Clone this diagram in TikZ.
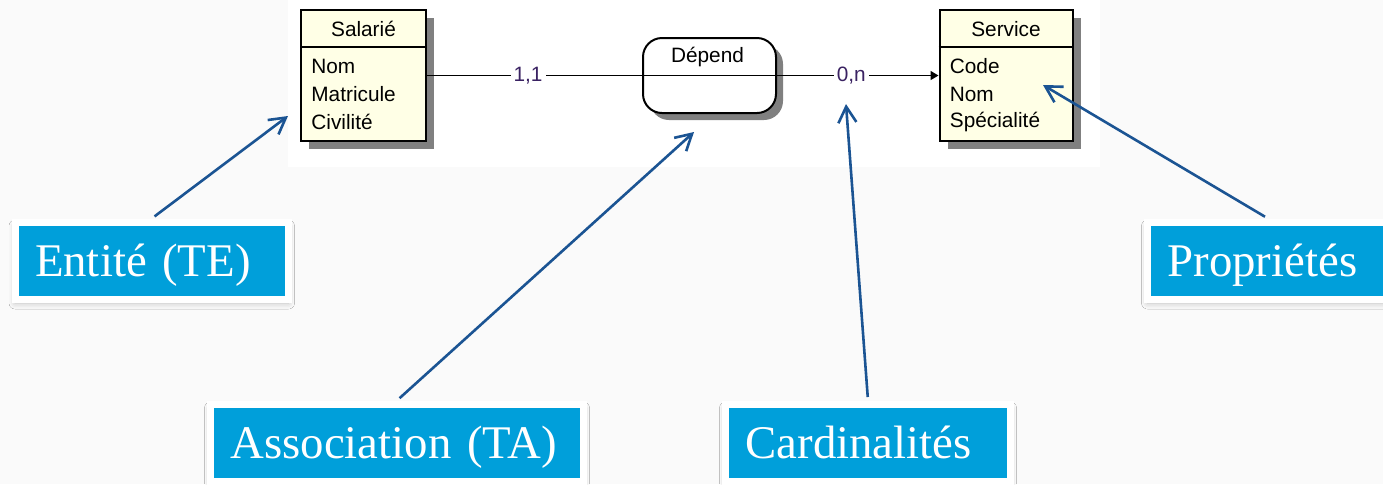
\documentclass[tikz,border=0pt]{standalone}
\usepackage{fontspec}
\setmainfont{Liberation Serif}
\newfontfamily\diafont{Liberation Sans}
\usetikzlibrary{arrows.meta,positioning,shadows,shadows.blur}

\definecolor{bgpat}{HTML}{FAFAFA}
\definecolor{entfill}{HTML}{FFFFE6}
\definecolor{shgray}{HTML}{808080}
\definecolor{callblue}{HTML}{009FDA}
\definecolor{ptrblue}{HTML}{1B5493}
\definecolor{cardtxt}{HTML}{3A2262}

\begin{document}
\begin{tikzpicture}[x=0.5pt,y=-0.5pt,
  ent/.style={draw=black,line width=1pt,fill=entfill,minimum width=#1,minimum height=65.5pt,inner sep=0pt,
    drop shadow={shadow xshift=4pt,shadow yshift=-4pt,fill=shgray,opacity=1}},
  asso/.style={draw=black,line width=1pt,fill=white,rounded corners=9.5pt,minimum width=66.5pt,minimum height=37.5pt,
    inner sep=0pt,drop shadow={shadow xshift=3.5pt,shadow yshift=-3.5pt,fill=shgray,opacity=1}},
  lbl/.style={font=\diafont\fontsize{10.4}{12}\selectfont,inner sep=0pt},
  attr/.style={lbl,anchor=west},
  card/.style={lbl,fill=white,inner sep=1.5pt,text=cardtxt},
  conn/.style={line width=0.8pt},
  call/.style={draw=white,line width=3.5pt,fill=callblue,text=white,text width=#1,align=left,
    inner xsep=10pt,inner ysep=0pt,minimum height=38.5pt,text height=16pt,text depth=0pt,
    font=\fontsize{23.4}{28}\selectfont,
    blur shadow={shadow xshift=0pt,shadow yshift=-2pt,shadow blur radius=3pt,shadow opacity=25}},
  ptr/.style={draw=ptrblue,line width=1.3pt,-{Straight Barb[length=8pt,width=9pt]},shorten <=1.75pt}]

  % page and screenshot area
  \path[use as bounding box,fill=bgpat] (0,0) rectangle (1383,484);
  \fill[white] (288,0) rectangle (1100,167);

  % MCD
  \node[ent=62.5pt] (salarie) at (363.5,75.5) {};
  \draw[line width=1pt] ([yshift=-19pt]salarie.north west) -- ([yshift=-19pt]salarie.north east);
  \node[lbl] (salarie-t) at (363.5,29) {Salarié};
  \node[attr] (s-nom) at (311,66) {Nom};
  \node[attr] (s-mat) at (311,94) {Matricule};
  \node[attr] (s-civ) at (311,122) {Civilité};

  \node[asso] (dep) at (709.5,75.5) {};
  \draw[conn] (dep.west) -- (dep.east);
  \node[lbl] (dep-t) at (707.5,57) {Dépend};

  \node[ent=66.5pt] (service) at (1006,75.5) {};
  \draw[line width=1pt] ([yshift=-19pt]service.north west) -- ([yshift=-19pt]service.north east);
  \node[lbl] (service-t) at (1006,29) {Service};
  \node[attr] (v-code) at (949.5,66) {Code};
  \node[attr] (v-nom) at (949.5,94) {Nom};
  \node[attr] (v-spe) at (949.5,122) {Spécialité};

  \draw[conn] (salarie.east) -- node[card,pos=0.47]{1,1} (dep.west);
  \draw[conn,-{Triangle[length=4pt,width=4.5pt]}] (dep.east) -- node[card,pos=0.46]{0,n} (service.west);

  % callouts
  \node[call=116.75pt] (entite) at (151.75,260.5) {Entité (TE)};
  \node[call=166.5pt] (assoc) at (397,442.5) {Association (TA)};
  \node[call=122.5pt] (cardi) at (868,442.5) {Cardinalités};
  \node[call=100.5pt] (props) at (1268,260.5) {Propriétés};

  \coordinate (p-ent) at (288,116);
  \coordinate (p-asso) at (694,132);
  \coordinate (p-card) at (846,104);
  \coordinate (p-prop) at (1043,85);

  \draw[ptr] (entite.north) -- (p-ent);
  \draw[ptr] (assoc.north) -- (p-asso);
  \draw[ptr] (cardi.north) -- (p-card);
  \draw[ptr] (props.north) -- (p-prop);
\end{tikzpicture}
\end{document}
